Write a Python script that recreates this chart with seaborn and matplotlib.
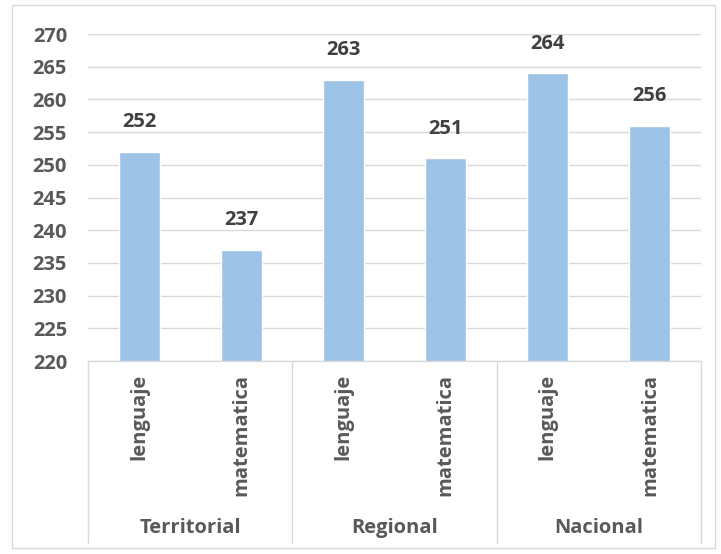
import pandas as pd
import matplotlib.pyplot as plt
import seaborn as sns
from matplotlib.patches import Rectangle
from matplotlib.lines import Line2D

# data
groups = ['Territorial', 'Regional', 'Nacional']
subjects = ['lenguaje', 'matematica']
scores = [252, 237, 263, 251, 264, 256]

rows = []
for i, g in enumerate(groups):
    for j, s in enumerate(subjects):
        rows.append({'key': g + '-' + s, 'group': g, 'subject': s, 'score': scores[i * 2 + j]})
df = pd.DataFrame(rows)

sns.set_style('white')
plt.rcParams['font.family'] = ['Open Sans', 'DejaVu Sans']
plt.rcParams['font.weight'] = 'bold'
txt = '#595959'
grid = '#D9D9D9'
fs = 14.5

fig = plt.figure(figsize=(7.21, 5.54), dpi=100)
ax = fig.add_axes([88 / 721, 1 - 361 / 554, (701 - 88) / 721, (361 - 34) / 554])

sns.barplot(data=df, x='key', y='score', order=df['key'], color='#9DC3E6',
            width=0.4, ax=ax, saturation=1)
ax.set_ylim(220, 270)
ax.set_yticks(range(220, 271, 5))
ax.set_xlim(-0.5, 5.5)
ax.grid(axis='y', color=grid, linewidth=1)
ax.set_axisbelow(True)
for sp in ['top', 'right', 'left']:
    ax.spines[sp].set_visible(False)
ax.spines['bottom'].set_color(grid)
ax.spines['bottom'].set_linewidth(1)

ax.set_xticks(range(6))
ax.set_xticklabels(df['subject'], rotation=90, fontsize=fs, fontweight='bold', color=txt)
ax.tick_params(axis='x', length=0, pad=9)
ax.tick_params(axis='y', length=0, pad=15, labelsize=fs, labelcolor=txt)
for t in ax.get_yticklabels():
    t.set_fontweight('bold')
ax.set_xlabel('')
ax.set_ylabel('')

for c in ax.containers:
    ax.bar_label(c, padding=14, fontsize=fs, fontweight='bold', color='#404040')

# group labels and separators under the axis
trans = ax.get_xaxis_transform()
y_bot = (361 - 543) / (361 - 34)
for k in range(4):
    x = -0.5 + 2 * k
    ax.add_line(Line2D([x, x], [0, y_bot], transform=trans, color=grid, lw=1, clip_on=False))
for i, g in enumerate(groups):
    ax.text(2 * i + 0.5, (361 - 528) / (361 - 34), g, transform=trans, ha='center', va='center',
            fontsize=fs, fontweight='bold', color=txt)

fig.patches.append(Rectangle((12 / 721, 1 - 548 / 554), (715 - 12) / 721, (548 - 5) / 554,
                             transform=fig.transFigure, fill=False, edgecolor=grid, lw=1))

fig.savefig('out.png', dpi=100)
